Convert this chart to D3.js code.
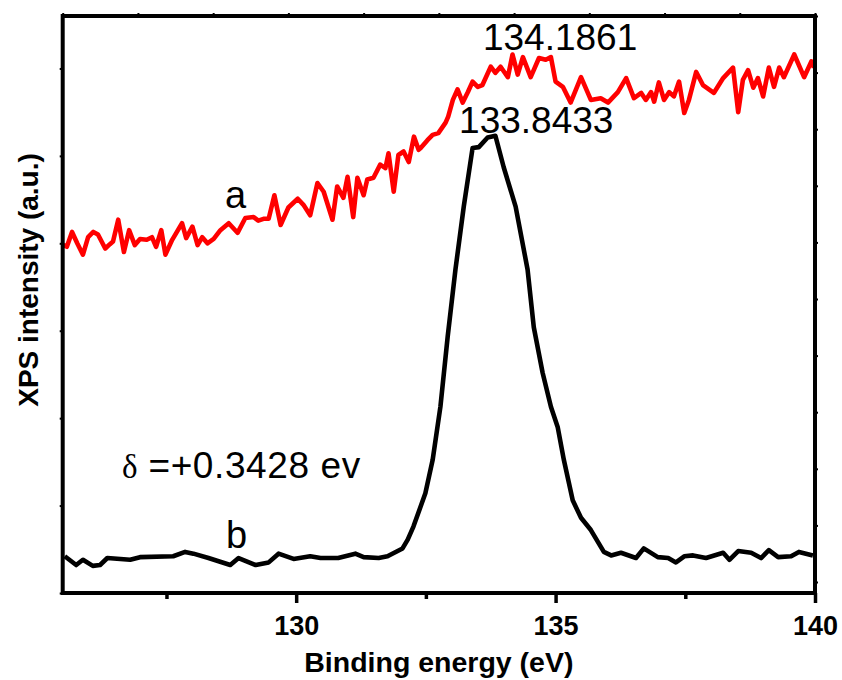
<!DOCTYPE html>
<html>
<head>
<meta charset="utf-8">
<script src="https://cdn.jsdelivr.net/npm/d3@7"></script>
<style>
  body { margin: 0; background: #fff; }
  text { font-family: Arial, "Liberation Sans", sans-serif; }
</style>
</head>
<body>
<svg id="chart" width="842" height="680"></svg>
<script>
// curve a (red) - binding energy (eV) and intensity (a.u.)
const energyA = [125.51,125.58,125.68,125.78,125.89,125.99,126.09,126.18,126.32,126.41,126.47,126.57,126.68,126.78,126.89,126.99,
  127.12,127.22,127.30,127.40,127.48,127.61,127.69,127.80,127.88,128.00,128.10,128.19,128.29,128.41,128.54,128.70,128.87,
  129.02,129.18,129.27,129.37,129.47,129.58,129.70,129.85,130.03,130.14,130.27,130.41,130.53,130.70,130.79,130.91,130.99,
  131.10,131.18,131.30,131.37,131.49,131.62,131.72,131.78,131.88,131.97,132.07,132.17,132.27,132.36,132.40,132.53,132.63,
  132.74,132.88,132.93,133.02,133.11,133.21,133.31,133.40,133.50,133.59,133.75,133.84,133.94,134.08,134.17,134.27,134.37,
  134.52,134.68,134.81,134.91,135.00,135.14,135.29,135.49,135.68,135.87,136.01,136.20,136.36,136.51,136.65,136.74,136.84,
  136.90,136.99,137.09,137.19,137.28,137.38,137.48,137.57,137.71,137.84,138.05,138.23,138.42,138.52,138.61,138.71,138.81,
  138.90,139.00,139.11,139.21,139.31,139.40,139.60,139.79,139.93,139.98];
const intensityA = [3.98,3.96,4.13,4.00,3.87,4.07,4.13,4.10,3.94,3.99,4.02,4.27,3.90,4.15,3.98,4.05,
  4.04,4.07,3.96,4.15,3.87,4.04,4.12,4.23,4.06,4.19,3.98,4.07,4.00,4.05,4.15,4.23,4.12,
  4.29,4.30,4.26,4.28,4.28,4.55,4.21,4.41,4.51,4.44,4.32,4.69,4.59,4.27,4.65,4.52,4.76,
  4.30,4.75,4.55,4.73,4.75,4.90,4.86,5.03,4.59,5.01,5.05,4.93,5.22,5.07,5.09,5.18,5.24,
  5.26,5.38,5.45,5.64,5.76,5.61,5.73,5.85,5.79,5.81,6.02,5.95,6.02,5.90,6.16,5.93,6.13,
  5.90,6.12,6.10,6.13,5.85,5.79,5.61,5.90,5.64,5.66,5.61,5.73,5.89,5.66,5.72,5.64,5.73,
  5.62,5.84,5.64,5.73,5.68,5.85,5.49,5.64,5.96,5.81,5.72,5.89,6.01,5.50,5.87,5.98,5.78,
  5.89,5.68,6.01,5.79,6.01,5.90,6.16,5.90,6.08,6.01];

// curve b (black)
const energyB = [125.54,125.76,125.89,126.08,126.22,126.36,126.80,126.99,127.63,127.86,128.02,128.31,128.73,128.89,129.22,
  129.47,129.66,129.95,130.27,130.47,130.81,131.14,131.30,131.59,131.76,132.05,132.15,132.26,132.49,132.63,132.78,132.92,
  133.07,133.23,133.40,133.52,133.69,133.84,134.00,134.23,134.46,134.58,134.75,134.91,135.04,135.16,135.33,135.49,135.68,
  135.93,136.07,136.26,136.55,136.70,136.97,137.17,137.32,137.48,137.65,137.90,138.23,138.35,138.52,138.77,138.96,139.11,
  139.29,139.54,139.69,139.96];
const intensityB = [0.42,0.32,0.38,0.31,0.32,0.40,0.38,0.41,0.42,0.47,0.45,0.40,0.32,0.40,0.32,
  0.35,0.45,0.39,0.42,0.40,0.40,0.45,0.41,0.40,0.42,0.51,0.61,0.76,1.14,1.52,2.13,2.93,
  3.70,4.42,5.09,5.10,5.21,5.23,4.87,4.42,3.70,3.04,2.52,2.13,1.90,1.52,1.06,0.86,0.72,
  0.47,0.43,0.46,0.40,0.51,0.41,0.40,0.35,0.42,0.43,0.40,0.46,0.38,0.48,0.46,0.40,0.49,
  0.41,0.42,0.47,0.43];

const majorTicks = [130, 135, 140];
const minorTicks = [127.5, 132.5, 137.5];
const yTicks = [0, 1, 2, 3, 4, 5, 6];

const svg = d3.select("#chart");
const W = 842, H = 680;
const plotLeft = 62.7, plotRight = W - 27, plotTop = 16, plotBottom = H - 87;

const x = d3.scaleLinear().domain([125.5, 140]).range([plotLeft, plotRight]);
const y = d3.scaleLinear().domain([0, 6.6]).range([plotBottom, plotTop]);

const seriesA = energyA.map((e, i) => [e, intensityA[i]]);
const seriesB = energyB.map((e, i) => [e, intensityB[i]]);
const line = d3.line().x(d => x(d[0])).y(d => y(d[1]));

svg.append("path").datum(seriesA)
  .attr("d", line).attr("fill", "none").attr("stroke", "#ff0000")
  .attr("stroke-width", 4.6).attr("stroke-linejoin", "round");
svg.append("path").datum(seriesB)
  .attr("d", line).attr("fill", "none").attr("stroke", "#000")
  .attr("stroke-width", 4.6).attr("stroke-linejoin", "round");

// bottom axis, major + minor
const xAxis = svg.append("g").attr("transform", `translate(0,${plotBottom})`)
  .call(d3.axisBottom(x).tickValues(majorTicks).tickSize(10).tickPadding(13).tickFormat(d3.format("d")));
xAxis.select(".domain").remove();
xAxis.selectAll("line").attr("stroke-width", 3.5);
xAxis.selectAll("text").attr("font-size", 27).attr("font-weight", "bold").attr("fill", "#000");

const xMinor = svg.append("g").attr("transform", `translate(0,${plotBottom})`)
  .call(d3.axisBottom(x).tickValues(minorTicks).tickSize(6).tickFormat(""));
xMinor.select(".domain").remove();
xMinor.selectAll("line").attr("stroke-width", 3.5);

// left axis ticks
const yAxis = svg.append("g").attr("transform", `translate(${plotLeft},0)`)
  .call(d3.axisLeft(y).tickValues(yTicks).tickSize(3).tickFormat(""));
yAxis.select(".domain").remove();
yAxis.selectAll("line").attr("stroke-width", 2);

// top and right: ten-division mirror ticks
const topScale = d3.scaleLinear().domain([0, 10]).range([plotLeft, plotRight]);
const rightScale = d3.scaleLinear().domain([0, 10]).range([plotBottom - 11, plotTop]);
const tAxis = svg.append("g").attr("transform", `translate(0,${plotTop})`)
  .call(d3.axisTop(topScale).ticks(10).tickSize(3).tickFormat(""));
tAxis.select(".domain").remove();
tAxis.selectAll("line").attr("stroke-width", 2);
const rAxis = svg.append("g").attr("transform", `translate(${plotRight},0)`)
  .call(d3.axisRight(rightScale).ticks(10).tickSize(3).tickFormat(""));
rAxis.select(".domain").remove();
rAxis.selectAll("line").attr("stroke-width", 2);

// frame
svg.append("rect").attr("x", plotLeft).attr("y", plotTop)
  .attr("width", plotRight - plotLeft).attr("height", plotBottom - plotTop)
  .attr("fill", "none").attr("stroke", "#000").attr("stroke-width", 4);

// axis titles
svg.append("text").attr("x", (plotLeft + plotRight) / 2).attr("y", 672)
  .attr("text-anchor", "middle").attr("font-size", 28.5).attr("font-weight", "bold")
  .text("Binding energy (eV)");
svg.append("text").attr("transform", "translate(38,280) rotate(-90)")
  .attr("text-anchor", "middle").attr("font-size", 28).attr("font-weight", "bold")
  .text("XPS intensity (a.u.)");

// annotations
svg.append("text").attr("x", x(133.6)).attr("y", y(6.16) - 4)
  .attr("font-size", 37).text("134.1861");
svg.append("text").attr("x", x(133.14)).attr("y", y(5.23) - 3)
  .attr("font-size", 37).text("133.8433");
svg.append("text").attr("x", x(128.83)).attr("y", y(4.4)).attr("text-anchor", "middle")
  .attr("font-size", 38).text("a");
svg.append("text").attr("x", x(128.85)).attr("y", y(0.52)).attr("text-anchor", "middle")
  .attr("font-size", 38).text("b");
const delta = svg.append("text").attr("x", 122).attr("y", 478).attr("font-size", 37);
delta.append("tspan").attr("font-family", "'Liberation Serif', 'Times New Roman', serif")
  .attr("font-size", 33).text("δ");
delta.append("tspan").attr("letter-spacing", 0.6).text(" =+0.3428 ev");
</script>
</body>
</html>
